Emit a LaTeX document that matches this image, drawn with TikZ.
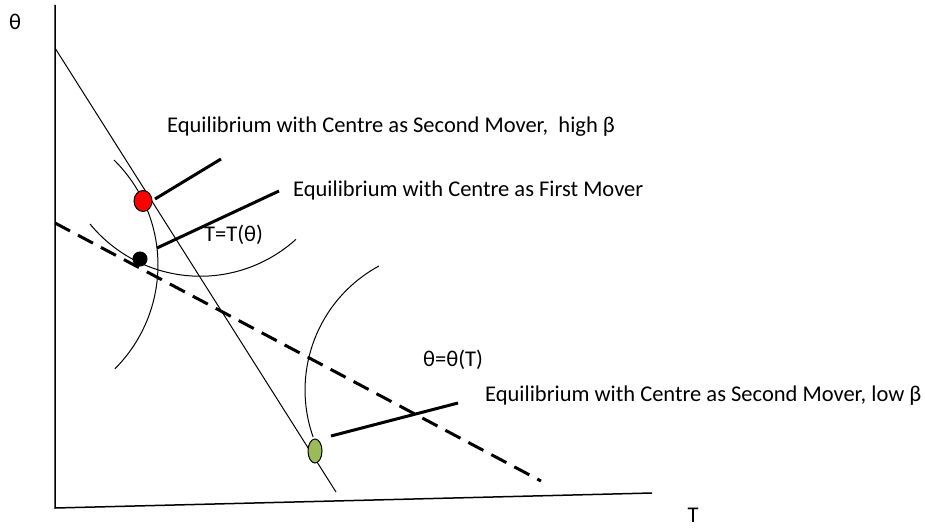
\documentclass[tikz,border=0pt]{standalone}
\usepackage{fontspec}
\setmainfont{Carlito}
\usetikzlibrary{shapes.geometric, positioning}

\begin{document}
\begin{tikzpicture}[
    x=1pt, y=-1pt,
    font=\fontsize{22.5}{26}\selectfont,
    axis/.style={line width=1.5pt},
    curve/.style={line width=1pt},
    pointer/.style={line width=3pt},
    boundary/.style={line width=3pt, dash pattern=on 17pt off 9pt},
    txt/.style={anchor=west, inner sep=0pt},
    dot/.style={ellipse, draw, line width=1pt, inner sep=0pt,
                minimum width=#1},
]
    \useasboundingbox (0,0) rectangle (925,527);

    % Axes
    \coordinate (origin) at (55,508);
    \coordinate (ytop) at (55,5);
    \coordinate (xend) at (652,493);
    \draw[axis] (ytop) -- (origin) -- (xend);
    \node (ylab) at (15,22) {θ};
    \node (xlab) at (693,515) {T};

    % Reaction functions
    \coordinate (solidA) at (55,48);
    \coordinate (solidB) at (336,492);
    \draw[curve] (solidA) -- (solidB);
    \coordinate (dashA) at (55,223);
    \coordinate (dashB) at (541,481);
    \draw[boundary] (dashA) -- (dashB);

    % Indifference curves
    \draw[curve] (114,160) arc[start angle=-45.5, end angle=45, radius=147];
    \draw[curve] (90,224) arc[start angle=140.7, end angle=47.8, radius=142.5];
    \draw[curve] (379,266) arc[start angle=241.6, end angle=160.5, radius=141];

    % Equilibria
    \node[dot=18pt, minimum height=21pt, fill=red] (highB) at (143,201) {};
    \node[dot=14pt, minimum height=14pt, fill=black] (first) at (140,259) {};
    \node[dot=14pt, minimum height=24pt, fill={rgb,255:red,155;green,187;blue,89}]
          (lowB) at (315,451) {};

    % Labels
    \node[txt] (labHigh) at (167,127)
          {Equilibrium with Centre as Second Mover,\ \ high β};
    \node[txt] (labFirst) at (293,190) {Equilibrium with Centre as First Mover};
    \node[txt] (labTT) at (204,235) {T=T(θ)};
    \node[txt] (labTh) at (423,360) {θ=θ(T)};
    \node[txt] (labLow) at (485,396)
          {Equilibrium with Centre as Second Mover, low β};

    % Pointers
    \coordinate (sHigh) at (155,199);
    \coordinate (sFirst) at (157,248);
    \coordinate (sLow) at (331,436);
    \coordinate (pHigh) at (221,159);
    \coordinate (pFirst) at (279,191);
    \coordinate (pLow) at (458,403);
    \draw[pointer] (sHigh) -- (pHigh);
    \draw[pointer] (sFirst) -- (pFirst);
    \draw[pointer] (sLow) -- (pLow);
\end{tikzpicture}
\end{document}
